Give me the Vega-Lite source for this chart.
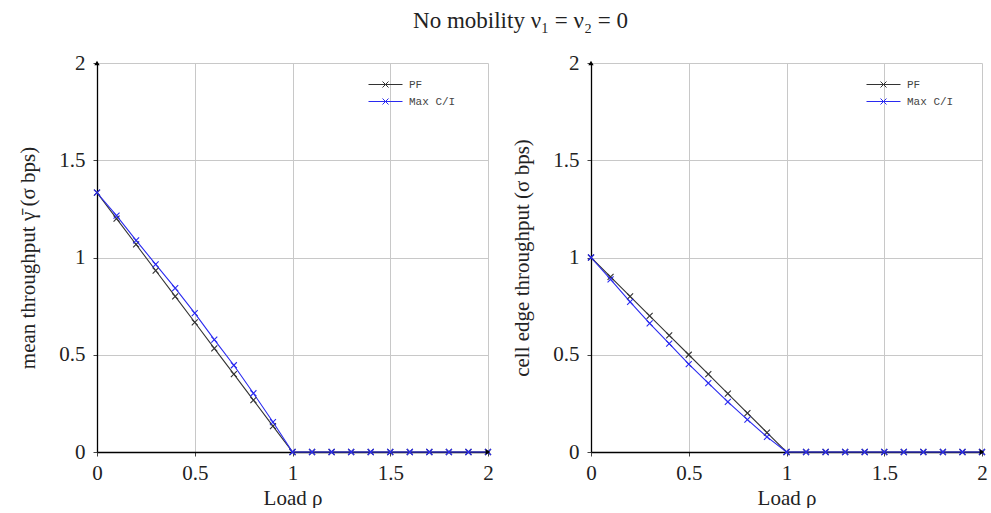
{
  "$schema": "https://vega.github.io/schema/vega-lite/v6.json",
  "padding": {"left": 17, "top": 10, "right": 5, "bottom": 0},
  "background": "white",
  "title": {"text": "No mobility  ν₁ = ν₂ = 0", "font": "Liberation Serif", "fontSize": 23, "fontWeight": "normal", "color": "#222", "anchor": "middle", "offset": 19, "dx": 18},
  "config": {
    "view": {"stroke": null},
    "axis": {"labelFont": "Liberation Serif", "titleFont": "Liberation Serif", "labelFontSize": 21, "titleFontSize": 21, "titleFontWeight": "normal", "labelColor": "#222", "titleColor": "#222", "domainColor": "#000", "domainWidth": 1.3, "tickColor": "#444", "tickSize": 4, "gridColor": "#c8c8c8", "gridWidth": 1, "labelFlush": false, "labelPadding": 8},
    "legend": {"labelFont": "Liberation Mono", "labelFontSize": 11, "labelColor": "#444", "symbolType": "M-3.4,0H3.4M-0.6,-0.6L0.6,0.6M-0.6,0.6L0.6,-0.6", "symbolSize": 100, "symbolStrokeWidth": 1, "symbolFillColor": "transparent", "labelOffset": 18, "rowPadding": 5, "padding": 0}
  },
  "datasets": {
    "tp": [
      {"panel": "mean", "series": "PF", "rho": 0.0, "value": 1.333},
      {"panel": "mean", "series": "PF", "rho": 0.1, "value": 1.2},
      {"panel": "mean", "series": "PF", "rho": 0.2, "value": 1.067},
      {"panel": "mean", "series": "PF", "rho": 0.3, "value": 0.933},
      {"panel": "mean", "series": "PF", "rho": 0.4, "value": 0.8},
      {"panel": "mean", "series": "PF", "rho": 0.5, "value": 0.667},
      {"panel": "mean", "series": "PF", "rho": 0.6, "value": 0.533},
      {"panel": "mean", "series": "PF", "rho": 0.7, "value": 0.4},
      {"panel": "mean", "series": "PF", "rho": 0.8, "value": 0.267},
      {"panel": "mean", "series": "PF", "rho": 0.9, "value": 0.133},
      {"panel": "mean", "series": "PF", "rho": 1.0, "value": 0},
      {"panel": "mean", "series": "PF", "rho": 1.1, "value": 0},
      {"panel": "mean", "series": "PF", "rho": 1.2, "value": 0},
      {"panel": "mean", "series": "PF", "rho": 1.3, "value": 0},
      {"panel": "mean", "series": "PF", "rho": 1.4, "value": 0},
      {"panel": "mean", "series": "PF", "rho": 1.5, "value": 0},
      {"panel": "mean", "series": "PF", "rho": 1.6, "value": 0},
      {"panel": "mean", "series": "PF", "rho": 1.7, "value": 0},
      {"panel": "mean", "series": "PF", "rho": 1.8, "value": 0},
      {"panel": "mean", "series": "PF", "rho": 1.9, "value": 0},
      {"panel": "mean", "series": "PF", "rho": 2.0, "value": 0},
      {"panel": "mean", "series": "Max C/I", "rho": 0.0, "value": 1.333},
      {"panel": "mean", "series": "Max C/I", "rho": 0.1, "value": 1.215},
      {"panel": "mean", "series": "Max C/I", "rho": 0.2, "value": 1.088},
      {"panel": "mean", "series": "Max C/I", "rho": 0.3, "value": 0.965},
      {"panel": "mean", "series": "Max C/I", "rho": 0.4, "value": 0.843},
      {"panel": "mean", "series": "Max C/I", "rho": 0.5, "value": 0.714},
      {"panel": "mean", "series": "Max C/I", "rho": 0.6, "value": 0.578},
      {"panel": "mean", "series": "Max C/I", "rho": 0.7, "value": 0.446},
      {"panel": "mean", "series": "Max C/I", "rho": 0.8, "value": 0.302},
      {"panel": "mean", "series": "Max C/I", "rho": 0.9, "value": 0.154},
      {"panel": "mean", "series": "Max C/I", "rho": 1.0, "value": 0},
      {"panel": "mean", "series": "Max C/I", "rho": 1.1, "value": 0},
      {"panel": "mean", "series": "Max C/I", "rho": 1.2, "value": 0},
      {"panel": "mean", "series": "Max C/I", "rho": 1.3, "value": 0},
      {"panel": "mean", "series": "Max C/I", "rho": 1.4, "value": 0},
      {"panel": "mean", "series": "Max C/I", "rho": 1.5, "value": 0},
      {"panel": "mean", "series": "Max C/I", "rho": 1.6, "value": 0},
      {"panel": "mean", "series": "Max C/I", "rho": 1.7, "value": 0},
      {"panel": "mean", "series": "Max C/I", "rho": 1.8, "value": 0},
      {"panel": "mean", "series": "Max C/I", "rho": 1.9, "value": 0},
      {"panel": "mean", "series": "Max C/I", "rho": 2.0, "value": 0},
      {"panel": "edge", "series": "PF", "rho": 0.0, "value": 1.0},
      {"panel": "edge", "series": "PF", "rho": 0.1, "value": 0.9},
      {"panel": "edge", "series": "PF", "rho": 0.2, "value": 0.8},
      {"panel": "edge", "series": "PF", "rho": 0.3, "value": 0.7},
      {"panel": "edge", "series": "PF", "rho": 0.4, "value": 0.6},
      {"panel": "edge", "series": "PF", "rho": 0.5, "value": 0.5},
      {"panel": "edge", "series": "PF", "rho": 0.6, "value": 0.4},
      {"panel": "edge", "series": "PF", "rho": 0.7, "value": 0.3},
      {"panel": "edge", "series": "PF", "rho": 0.8, "value": 0.2},
      {"panel": "edge", "series": "PF", "rho": 0.9, "value": 0.1},
      {"panel": "edge", "series": "PF", "rho": 1.0, "value": 0},
      {"panel": "edge", "series": "PF", "rho": 1.1, "value": 0},
      {"panel": "edge", "series": "PF", "rho": 1.2, "value": 0},
      {"panel": "edge", "series": "PF", "rho": 1.3, "value": 0},
      {"panel": "edge", "series": "PF", "rho": 1.4, "value": 0},
      {"panel": "edge", "series": "PF", "rho": 1.5, "value": 0},
      {"panel": "edge", "series": "PF", "rho": 1.6, "value": 0},
      {"panel": "edge", "series": "PF", "rho": 1.7, "value": 0},
      {"panel": "edge", "series": "PF", "rho": 1.8, "value": 0},
      {"panel": "edge", "series": "PF", "rho": 1.9, "value": 0},
      {"panel": "edge", "series": "PF", "rho": 2.0, "value": 0},
      {"panel": "edge", "series": "Max C/I", "rho": 0.0, "value": 1.0},
      {"panel": "edge", "series": "Max C/I", "rho": 0.1, "value": 0.888},
      {"panel": "edge", "series": "Max C/I", "rho": 0.2, "value": 0.772},
      {"panel": "edge", "series": "Max C/I", "rho": 0.3, "value": 0.661},
      {"panel": "edge", "series": "Max C/I", "rho": 0.4, "value": 0.557},
      {"panel": "edge", "series": "Max C/I", "rho": 0.5, "value": 0.452},
      {"panel": "edge", "series": "Max C/I", "rho": 0.6, "value": 0.354},
      {"panel": "edge", "series": "Max C/I", "rho": 0.7, "value": 0.258},
      {"panel": "edge", "series": "Max C/I", "rho": 0.8, "value": 0.166},
      {"panel": "edge", "series": "Max C/I", "rho": 0.9, "value": 0.078},
      {"panel": "edge", "series": "Max C/I", "rho": 1.0, "value": 0},
      {"panel": "edge", "series": "Max C/I", "rho": 1.1, "value": 0},
      {"panel": "edge", "series": "Max C/I", "rho": 1.2, "value": 0},
      {"panel": "edge", "series": "Max C/I", "rho": 1.3, "value": 0},
      {"panel": "edge", "series": "Max C/I", "rho": 1.4, "value": 0},
      {"panel": "edge", "series": "Max C/I", "rho": 1.5, "value": 0},
      {"panel": "edge", "series": "Max C/I", "rho": 1.6, "value": 0},
      {"panel": "edge", "series": "Max C/I", "rho": 1.7, "value": 0},
      {"panel": "edge", "series": "Max C/I", "rho": 1.8, "value": 0},
      {"panel": "edge", "series": "Max C/I", "rho": 1.9, "value": 0},
      {"panel": "edge", "series": "Max C/I", "rho": 2.0, "value": 0}
    ],
    "arrows": [
      {"rho": 0, "value": 2, "dir": "up"},
      {"rho": 2, "value": 0, "dir": "right"}
    ]
  },
  "resolve": {"legend": {"color": "independent"}, "scale": {"color": "independent"}},
  "spacing": 17,
  "hconcat": [
    {
      "width": 391,
      "height": 389,
      "layer": [
        {
          "data": {"name": "tp"},
          "transform": [{"filter": "datum.panel === 'mean'"}],
          "mark": {"type": "line", "strokeWidth": 1.1},
          "encoding": {
            "x": {"field": "rho", "type": "quantitative", "scale": {"domain": [0, 2], "nice": false}, "axis": {"values": [0, 0.5, 1, 1.5, 2], "format": "~g", "title": "Load ρ", "titlePadding": 4, "labelPadding": 6}},
            "y": {"field": "value", "type": "quantitative", "scale": {"domain": [0, 2], "nice": false}, "axis": {"values": [0, 0.5, 1, 1.5, 2], "format": "~g", "title": "mean throughput γ̄ (σ bps)", "titlePadding": 20}},
            "color": {"field": "series", "type": "nominal", "scale": {"domain": ["PF", "Max C/I"], "range": ["#333333", "#2a2af0"]}, "legend": {"title": null, "orient": "none", "legendX": 283, "legendY": 16}}
          }
        },
        {
          "data": {"name": "tp"},
          "transform": [{"filter": "datum.panel === 'mean'"}],
          "mark": {"type": "point", "shape": "M-1,-1L1,1M-1,1L1,-1", "filled": false, "size": 36, "strokeWidth": 1.1, "opacity": 1},
          "encoding": {
            "x": {"field": "rho", "type": "quantitative"},
            "y": {"field": "value", "type": "quantitative"},
            "color": {"field": "series", "type": "nominal", "scale": {"domain": ["PF", "Max C/I"], "range": ["#333333", "#2a2af0"]}, "legend": {"title": null, "orient": "none", "legendX": 283, "legendY": 16}}
          }
        },
        {
          "data": {"name": "arrows"},
          "mark": {"type": "point", "filled": true, "color": "#000", "size": 28, "opacity": 1},
          "encoding": {
            "x": {"field": "rho", "type": "quantitative"},
            "y": {"field": "value", "type": "quantitative"},
            "shape": {"field": "dir", "type": "nominal", "scale": {"domain": ["up", "right"], "range": ["triangle-up", "triangle-right"]}, "legend": null}
          }
        }
      ]
    },
    {
      "width": 391,
      "height": 389,
      "layer": [
        {
          "data": {"name": "tp"},
          "transform": [{"filter": "datum.panel === 'edge'"}],
          "mark": {"type": "line", "strokeWidth": 1.1},
          "encoding": {
            "x": {"field": "rho", "type": "quantitative", "scale": {"domain": [0, 2], "nice": false}, "axis": {"values": [0, 0.5, 1, 1.5, 2], "format": "~g", "title": "Load ρ", "titlePadding": 4, "labelPadding": 6}},
            "y": {"field": "value", "type": "quantitative", "scale": {"domain": [0, 2], "nice": false}, "axis": {"values": [0, 0.5, 1, 1.5, 2], "format": "~g", "title": "cell edge throughput (σ bps)", "titlePadding": 20}},
            "color": {"field": "series", "type": "nominal", "scale": {"domain": ["PF", "Max C/I"], "range": ["#333333", "#2a2af0"]}, "legend": {"title": null, "orient": "none", "legendX": 287, "legendY": 16}}
          }
        },
        {
          "data": {"name": "tp"},
          "transform": [{"filter": "datum.panel === 'edge'"}],
          "mark": {"type": "point", "shape": "M-1,-1L1,1M-1,1L1,-1", "filled": false, "size": 36, "strokeWidth": 1.1, "opacity": 1},
          "encoding": {
            "x": {"field": "rho", "type": "quantitative"},
            "y": {"field": "value", "type": "quantitative"},
            "color": {"field": "series", "type": "nominal", "scale": {"domain": ["PF", "Max C/I"], "range": ["#333333", "#2a2af0"]}, "legend": {"title": null, "orient": "none", "legendX": 287, "legendY": 16}}
          }
        },
        {
          "data": {"name": "arrows"},
          "mark": {"type": "point", "filled": true, "color": "#000", "size": 28, "opacity": 1},
          "encoding": {
            "x": {"field": "rho", "type": "quantitative"},
            "y": {"field": "value", "type": "quantitative"},
            "shape": {"field": "dir", "type": "nominal", "scale": {"domain": ["up", "right"], "range": ["triangle-up", "triangle-right"]}, "legend": null}
          }
        }
      ]
    }
  ]
}
